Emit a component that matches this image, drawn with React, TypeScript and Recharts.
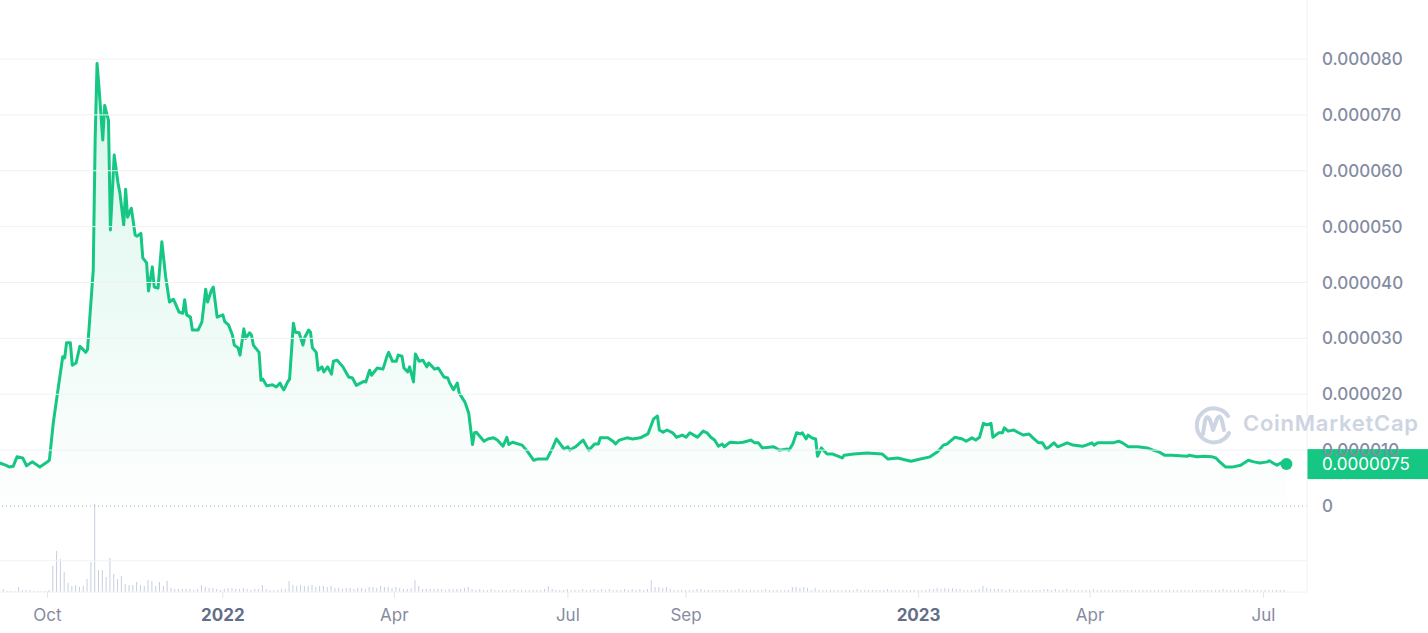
import React from 'react';
import { ComposedChart, Area, Bar, XAxis, YAxis, ReferenceLine, ReferenceDot } from 'recharts';

const DAY = 86400000;
// prices below are in millionths of a dollar
const PRICE_UNIT = 1e-6;

const priceSeries: [string, number][] = [
  ['2021-09-06', 7.7], ['2021-09-09', 7.3], ['2021-09-11', 7.0], ['2021-09-13', 7.1], ['2021-09-15', 8.8], ['2021-09-18', 8.6],
  ['2021-09-20', 7.2], ['2021-09-23', 7.9], ['2021-09-27', 7.0],
  ['2021-10-01', 7.9], ['2021-10-02', 8.2], ['2021-10-04', 14.8], ['2021-10-07', 22.0], ['2021-10-09', 26.7], ['2021-10-10', 26.5],
  ['2021-10-11', 29.2], ['2021-10-13', 29.2], ['2021-10-14', 25.2], ['2021-10-16', 25.6], ['2021-10-18', 28.6], ['2021-10-20', 27.9],
  ['2021-10-21', 27.5], ['2021-10-22', 28.0], ['2021-10-25', 42.2], ['2021-10-26', 65.5], ['2021-10-27', 79.2], ['2021-10-28', 75.0],
  ['2021-10-30', 65.5], ['2021-10-31', 71.7],
  ['2021-11-02', 69.0], ['2021-11-03', 49.4], ['2021-11-05', 62.8], ['2021-11-07', 57.8], ['2021-11-08', 56.0], ['2021-11-10', 50.3],
  ['2021-11-11', 56.7], ['2021-11-12', 51.7], ['2021-11-14', 53.3], ['2021-11-16', 48.5], ['2021-11-17', 48.3], ['2021-11-19', 48.8],
  ['2021-11-20', 44.4], ['2021-11-22', 43.5], ['2021-11-23', 38.5], ['2021-11-25', 42.8], ['2021-11-26', 39.2], ['2021-11-28', 39.0],
  ['2021-11-30', 47.3],
  ['2021-12-02', 41.0], ['2021-12-04', 36.5], ['2021-12-06', 37.0], ['2021-12-07', 36.3], ['2021-12-09', 34.7], ['2021-12-11', 34.5],
  ['2021-12-12', 36.9], ['2021-12-13', 34.2], ['2021-12-15', 33.8], ['2021-12-16', 31.5], ['2021-12-19', 31.5], ['2021-12-21', 32.9],
  ['2021-12-23', 38.8], ['2021-12-24', 36.5], ['2021-12-26', 38.6], ['2021-12-27', 39.2], ['2021-12-29', 33.8],
  ['2022-01-01', 34.2], ['2022-01-02', 33.0], ['2022-01-04', 32.4], ['2022-01-06', 30.6], ['2022-01-07', 28.8], ['2022-01-09', 28.3],
  ['2022-01-10', 27.0], ['2022-01-12', 31.7], ['2022-01-13', 30.0], ['2022-01-15', 31.0], ['2022-01-16', 30.6], ['2022-01-17', 28.8],
  ['2022-01-20', 27.5], ['2022-01-21', 22.5], ['2022-01-22', 22.7], ['2022-01-24', 21.5], ['2022-01-27', 21.7], ['2022-01-29', 21.3],
  ['2022-01-31', 22.0],
  ['2022-02-01', 21.3], ['2022-02-02', 20.8], ['2022-02-04', 22.2], ['2022-02-05', 22.7], ['2022-02-07', 32.7], ['2022-02-08', 31.1],
  ['2022-02-10', 31.0], ['2022-02-12', 28.8], ['2022-02-13', 30.2], ['2022-02-15', 31.5], ['2022-02-16', 31.1], ['2022-02-17', 28.3],
  ['2022-02-19', 27.5], ['2022-02-20', 24.3], ['2022-02-22', 24.9], ['2022-02-23', 24.0], ['2022-02-25', 24.9], ['2022-02-27', 23.6],
  ['2022-02-28', 25.9],
  ['2022-03-02', 26.1], ['2022-03-05', 24.9], ['2022-03-06', 24.3], ['2022-03-08', 23.1], ['2022-03-10', 22.9], ['2022-03-12', 21.6],
  ['2022-03-16', 22.3], ['2022-03-17', 22.2], ['2022-03-19', 24.3], ['2022-03-20', 23.4], ['2022-03-23', 24.7], ['2022-03-26', 24.5],
  ['2022-03-28', 26.7], ['2022-03-29', 27.5], ['2022-03-31', 25.9],
  ['2022-04-02', 25.9], ['2022-04-03', 27.0], ['2022-04-05', 26.8], ['2022-04-06', 24.7], ['2022-04-08', 24.0], ['2022-04-09', 24.9],
  ['2022-04-11', 22.2], ['2022-04-12', 27.2], ['2022-04-14', 25.9], ['2022-04-16', 26.1], ['2022-04-18', 24.9], ['2022-04-19', 25.6],
  ['2022-04-21', 24.9], ['2022-04-22', 24.5], ['2022-04-24', 24.7], ['2022-04-27', 23.1], ['2022-04-29', 22.9], ['2022-04-30', 22.0],
  ['2022-05-02', 20.8], ['2022-05-04', 22.0], ['2022-05-05', 20.2], ['2022-05-08', 18.6], ['2022-05-10', 16.6], ['2022-05-12', 11.0],
  ['2022-05-13', 13.1], ['2022-05-14', 13.2], ['2022-05-18', 11.6], ['2022-05-20', 12.0], ['2022-05-23', 12.2], ['2022-05-25', 11.8],
  ['2022-05-28', 10.7], ['2022-05-30', 12.3], ['2022-05-31', 11.0],
  ['2022-06-02', 11.4], ['2022-06-07', 10.9], ['2022-06-10', 9.7], ['2022-06-13', 8.2], ['2022-06-15', 8.4], ['2022-06-20', 8.4],
  ['2022-06-23', 10.4], ['2022-06-25', 12.0], ['2022-06-29', 10.2],
  ['2022-07-01', 10.6], ['2022-07-02', 10.0], ['2022-07-05', 10.6], ['2022-07-09', 11.8], ['2022-07-12', 10.0], ['2022-07-15', 11.1],
  ['2022-07-17', 11.1], ['2022-07-18', 12.2], ['2022-07-22', 12.2], ['2022-07-25', 11.5], ['2022-07-26', 11.1], ['2022-07-28', 11.8],
  ['2022-08-01', 12.2], ['2022-08-04', 12.0], ['2022-08-08', 12.2], ['2022-08-12', 12.9], ['2022-08-15', 15.6], ['2022-08-17', 16.1],
  ['2022-08-18', 13.6], ['2022-08-20', 13.2], ['2022-08-22', 13.6], ['2022-08-25', 13.1], ['2022-08-27', 12.3], ['2022-08-30', 12.7],
  ['2022-09-01', 12.3], ['2022-09-03', 13.1], ['2022-09-06', 12.5], ['2022-09-07', 12.3], ['2022-09-10', 13.4], ['2022-09-12', 13.1],
  ['2022-09-14', 12.3], ['2022-09-16', 11.8], ['2022-09-18', 10.7], ['2022-09-20', 11.1], ['2022-09-21', 10.6], ['2022-09-24', 11.4],
  ['2022-09-28', 11.3],
  ['2022-10-01', 11.4], ['2022-10-05', 11.8], ['2022-10-07', 11.3], ['2022-10-09', 11.3], ['2022-10-11', 10.4], ['2022-10-17', 10.6],
  ['2022-10-20', 10.0], ['2022-10-24', 10.2], ['2022-10-25', 10.0], ['2022-10-27', 11.1], ['2022-10-29', 13.1], ['2022-10-31', 12.9],
  ['2022-11-01', 13.1], ['2022-11-03', 12.0], ['2022-11-04', 12.7], ['2022-11-06', 12.2], ['2022-11-08', 12.0], ['2022-11-09', 8.9],
  ['2022-11-11', 10.4], ['2022-11-14', 9.3], ['2022-11-17', 9.3], ['2022-11-22', 8.6], ['2022-11-23', 9.1], ['2022-11-28', 9.3],
  ['2022-12-05', 9.5], ['2022-12-13', 9.3], ['2022-12-16', 8.4], ['2022-12-21', 8.6], ['2022-12-28', 8.0],
  ['2023-01-02', 8.4], ['2023-01-07', 8.8], ['2023-01-11', 9.7], ['2023-01-14', 10.9], ['2023-01-16', 11.1], ['2023-01-20', 12.3],
  ['2023-01-24', 12.0], ['2023-01-26', 11.6], ['2023-01-29', 12.2], ['2023-01-31', 11.8],
  ['2023-02-02', 12.3], ['2023-02-04', 14.8], ['2023-02-06', 14.5], ['2023-02-08', 14.8], ['2023-02-09', 12.3], ['2023-02-12', 13.1],
  ['2023-02-14', 13.1], ['2023-02-15', 14.0], ['2023-02-17', 13.4], ['2023-02-20', 13.6], ['2023-02-22', 13.2], ['2023-02-25', 12.7],
  ['2023-02-28', 12.9],
  ['2023-03-02', 12.2], ['2023-03-05', 11.3], ['2023-03-07', 11.3], ['2023-03-09', 10.2], ['2023-03-11', 10.7], ['2023-03-13', 11.3],
  ['2023-03-15', 10.6], ['2023-03-20', 11.3], ['2023-03-23', 10.9], ['2023-03-28', 10.7], ['2023-03-30', 10.9],
  ['2023-04-02', 11.3], ['2023-04-03', 10.9], ['2023-04-05', 11.3], ['2023-04-09', 11.3], ['2023-04-13', 11.3], ['2023-04-16', 11.6],
  ['2023-04-18', 11.3], ['2023-04-21', 10.6], ['2023-04-26', 10.6],
  ['2023-05-01', 10.4], ['2023-05-04', 10.0], ['2023-05-07', 9.7], ['2023-05-10', 9.1], ['2023-05-14', 9.1], ['2023-05-22', 8.9],
  ['2023-05-23', 9.1], ['2023-05-27', 8.8], ['2023-05-31', 8.9],
  ['2023-06-04', 8.8], ['2023-06-06', 8.6], ['2023-06-08', 7.9], ['2023-06-11', 7.0], ['2023-06-15', 7.0], ['2023-06-19', 7.3],
  ['2023-06-23', 8.2], ['2023-06-26', 7.9], ['2023-06-29', 7.7],
  ['2023-07-03', 7.9], ['2023-07-04', 8.1], ['2023-07-08', 7.3], ['2023-07-10', 7.7], ['2023-07-13', 7.5],
];

// volume in billions USD, one bar every 2 days from volumeStart
const volumeStart = '2021-09-06';
const volumeStepDays = 2;
const volumeSeries: number[] = [
  1.2, 1.2, 0.4, 0.4, 0.4, 2.0, 0.8, 0.8, 0.8, 0.4, 0.4, 0.4, 0.4, 0.8,
  10.4, 16.4, 13.2, 8.0, 3.6, 2.4, 2.8, 2.0, 2.4, 5.2, 12.0, 35.2, 8.8, 8.8, 6.0, 13.6,
  7.2, 5.2, 6.4, 3.2, 2.8, 2.8, 4.0, 2.8, 2.4, 4.8, 4.4, 2.4, 4.0, 2.4, 4.4, 1.6,
  1.2, 1.2, 1.2, 1.2, 1.2, 0.8, 1.2, 2.8, 2.0, 1.6, 1.6, 1.2, 0.8, 1.2, 1.6, 1.6,
  1.2, 1.2, 1.6, 1.2, 0.8, 1.2, 1.2, 2.8, 1.2, 0.8, 0.8, 0.8, 1.2, 1.2, 4.4, 2.8,
  2.4, 2.8, 2.4, 2.4, 2.8, 2.0, 2.4, 2.4, 2.0, 2.4, 1.6, 1.6, 1.2, 1.6, 1.6, 1.2,
  1.6, 1.6, 1.2, 2.0, 2.0, 1.6, 2.4, 2.0, 2.0, 1.6, 2.0, 1.6, 1.2, 1.2, 1.6, 4.8,
  2.4, 1.2, 1.2, 1.2, 1.2, 1.2, 1.2, 0.8, 1.2, 1.2, 1.2, 1.2, 1.6, 2.0, 1.2, 0.8,
  1.2, 0.8, 0.8, 1.2, 0.8, 0.8, 0.8, 0.8, 0.8, 1.2, 0.8, 0.8, 0.8, 0.8, 0.8, 0.8,
  0.8, 1.2, 2.4, 1.2, 0.8, 0.8, 0.8, 1.2, 0.8, 0.8, 0.8, 1.2, 0.8, 0.8, 1.2, 0.8,
  1.2, 0.8, 1.2, 0.8, 0.8, 0.8, 1.2, 0.8, 1.2, 0.8, 1.2, 0.8, 1.2, 4.8, 2.0, 2.0,
  1.6, 2.0, 1.2, 0.8, 0.8, 0.8, 0.8, 0.8, 0.8, 1.2, 1.2, 0.8, 0.8, 0.8, 0.8, 0.8,
  0.8, 0.8, 0.8, 0.8, 1.2, 0.8, 0.8, 0.8, 0.8, 0.8, 0.8, 1.2, 0.8, 0.8, 0.8, 0.8,
  0.8, 0.8, 2.0, 2.0, 1.6, 2.0, 1.6, 0.8, 1.6, 0.8, 0.8, 0.8, 0.8, 0.8, 0.8, 0.8,
  0.8, 0.8, 0.8, 1.2, 0.8, 0.8, 0.8, 0.8, 0.8, 0.8, 0.8, 1.2, 0.8, 0.8, 0.8, 0.8,
  0.8, 0.8, 0.8, 0.8, 0.8, 0.8, 1.2, 1.2, 1.6, 1.2, 1.6, 1.2, 1.6, 1.2, 1.2, 0.8,
  0.8, 0.8, 0.8, 1.2, 2.4, 1.6, 1.2, 1.2, 1.2, 1.2, 0.8, 1.2, 0.8, 0.8, 0.8, 0.8,
  0.8, 0.8, 0.8, 0.8, 1.2, 1.2, 0.8, 1.2, 0.8, 0.8, 1.2, 0.8, 0.8, 0.8, 0.8, 0.8,
  0.8, 1.2, 0.8, 0.8, 0.8, 0.8, 0.8, 0.8, 0.8, 0.8, 0.8, 0.8, 0.8, 0.8, 0.8, 0.8,
  0.8, 0.8, 0.8, 0.8, 0.8, 0.8, 0.8, 0.8, 0.8, 0.8, 0.8, 0.8, 0.8, 0.8, 0.8, 0.8,
  0.8, 0.8, 0.8, 1.2, 0.8, 0.8, 0.8, 0.8, 0.8, 1.2, 0.8, 0.8, 0.8, 0.8, 0.8, 0.8,
  0.8, 0.8, 0.8, 0.8,
];

const dateTicks = ['2021-10-01', '2022-01-01', '2022-04-01', '2022-07-01', '2022-09-01', '2023-01-01', '2023-04-01', '2023-07-01'];
const priceTicks = [0, 10, 20, 30, 40, 50, 60, 70, 80];
const priceGrid = [10, 20, 30, 40, 50, 60, 70, 80];
const volumeGridLevel = 12.5;
const MONTHS = ['Jan', 'Feb', 'Mar', 'Apr', 'May', 'Jun', 'Jul', 'Aug', 'Sep', 'Oct', 'Nov', 'Dec'];

const xDomain = [Date.UTC(2021, 8, 6, 2), Date.UTC(2023, 6, 23, 19)];
const priceDomain = [-15.39, 90.56];
const volumeDomain = [0, 236.8];

const GREEN = '#16c784';
const GRID = '#eff2f5';
const LABEL = '#858ca2';

const toTs = (d: string) => Date.parse(d + 'T00:00:00Z');

type Row = { t: number; price?: number; volume?: number };
const rows: Row[] = [
  ...priceSeries.map(([d, p]) => ({ t: toTs(d), price: p })),
  ...volumeSeries.map((v, i) => ({ t: toTs(volumeStart) + i * volumeStepDays * DAY, volume: v })),
].sort((a, b) => a.t - b.t);

const last = priceSeries[priceSeries.length - 1];

const DateTick = (props: any) => {
  const { x, y, payload } = props;
  const d = new Date(payload.value);
  const isYear = d.getUTCMonth() === 0;
  return (
    <text
      x={x}
      y={y}
      dy={21}
      textAnchor="middle"
      fill={isYear ? '#646e88' : LABEL}
      fontSize={17}
      fontWeight={isYear ? 700 : 400}
      fontFamily="Inter, sans-serif"
    >
      {isYear ? String(d.getUTCFullYear()) : MONTHS[d.getUTCMonth()]}
    </text>
  );
};

const PriceTag = (props: any) => {
  const { viewBox, text } = props;
  const x = viewBox.x + viewBox.width;
  const y = viewBox.y;
  return (
    <g>
      <rect x={x} y={y - 15} width={121} height={30} fill={GREEN} />
      <text x={x + 15} y={y} dominantBaseline="central" fill="#ffffff" fontSize={17} fontFamily="Inter, sans-serif">
        {text}
      </text>
    </g>
  );
};

const Watermark = () => (
  <svg width={1428} height={633} style={{ position: 'absolute', left: 0, top: 0, pointerEvents: 'none' }}>
    <g stroke="#cdd4e2" strokeWidth={4} fill="none" strokeLinecap="round" strokeLinejoin="round">
      <path d="M1228 416 A17 17 0 1 0 1229 433" />
      <path d="M1203 434 L1205 421 Q1207 414 1210 420 L1213 430 L1217 419 Q1220 413 1222 421 L1224 430" />
    </g>
    <text x={1243} y={431} fill="#cdd4e2" fontSize={22} fontWeight={600} fontFamily="Inter, sans-serif" textLength={175}>
      CoinMarketCap
    </text>
  </svg>
);

export default function App() {
  return (
    <div style={{ position: 'relative', width: 1428, height: 633, background: '#ffffff' }}>
      <style>{'body{margin:0}'}</style>
      <ComposedChart width={1428} height={633} data={rows} margin={{ top: 0, right: 0, bottom: 0, left: 0 }}>
        <defs>
          <linearGradient id="priceFill" x1="0" y1="0" x2="0" y2="1">
            <stop offset="0%" stopColor={GREEN} stopOpacity={0.28} />
            <stop offset="100%" stopColor={GREEN} stopOpacity={0.01} />
          </linearGradient>
        </defs>
        <XAxis
          dataKey="t"
          type="number"
          domain={xDomain}
          ticks={dateTicks.map(toTs)}
          interval={0}
          allowDataOverflow
          height={41}
          tick={<DateTick />}
          tickLine={{ stroke: '#e3e7ee' }}
          axisLine={{ stroke: GRID }}
        />
        <YAxis
          yAxisId="price"
          orientation="right"
          width={121}
          domain={priceDomain}
          ticks={priceTicks}
          interval={0}
          allowDataOverflow
          tickFormatter={(v: number) => (v === 0 ? '0' : (v * PRICE_UNIT).toFixed(6))}
          tick={{ fill: LABEL, fontSize: 17, fontWeight: 500, fontFamily: 'Inter, sans-serif' }}
          tickLine={false}
          tickSize={0}
          tickMargin={15}
          axisLine={{ stroke: GRID }}
        />
        <YAxis yAxisId="vol" hide domain={volumeDomain} allowDataOverflow />
        {priceGrid.map((v) => (
          <ReferenceLine key={v} yAxisId="price" y={v} stroke={GRID} strokeWidth={1} />
        ))}
        <ReferenceLine yAxisId="vol" y={volumeGridLevel} stroke={GRID} strokeWidth={1} />
        <ReferenceLine yAxisId="price" y={0} stroke="#a9b0c2" strokeDasharray="1 3" />
        <Bar dataKey="volume" yAxisId="vol" barSize={1} fill="#c6cee0" isAnimationActive={false} />
        <Area
          type="linear"
          dataKey="price"
          yAxisId="price"
          stroke={GREEN}
          strokeWidth={3}
          strokeLinejoin="round"
          fill="url(#priceFill)"
          connectNulls
          dot={false}
          activeDot={false}
          isAnimationActive={false}
        />
        <ReferenceDot yAxisId="price" x={toTs(last[0])} y={last[1]} r={6} fill={GREEN} stroke="none" />
        <ReferenceLine
          yAxisId="price"
          y={last[1]}
          stroke="transparent"
          label={<PriceTag text={(last[1] * PRICE_UNIT).toFixed(7)} />}
        />
      </ComposedChart>
      <Watermark />
    </div>
  );
}
